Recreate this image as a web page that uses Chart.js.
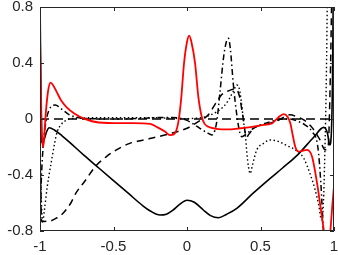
<!DOCTYPE html>
<html>
<head>
<meta charset="utf-8">
<script src="https://cdn.jsdelivr.net/npm/chart.js@4/dist/chart.umd.min.js"></script>
<style>
  html, body { margin: 0; padding: 0; background: #fff; }
</style>
</head>
<body>
<canvas id="plot" width="338" height="255"></canvas>
<script>
// ===== DATA =====
const xTicks = [-1, -0.5, 0, 0.5, 1];
const xTickLabels = ["-1", "-0.5", "0", "0.5", "1"];
const yTicks = [-0.8, -0.4, 0, 0.4, 0.8];
const yTickLabels = ["-0.8", "-0.4", "0", "0.4", "0.8"];

const redX = [-1, -0.995, -0.99, -0.982, -0.975, -0.96, -0.945, -0.928, -0.91, -0.885, -0.858, -0.82, -0.767, -0.7, -0.6, -0.45, -0.367, -0.25, -0.2, -0.15, -0.116, -0.09, -0.06, -0.04, -0.02, 0, 0.015, 0.03, 0.055, 0.077, 0.1, 0.12, 0.145, 0.2, 0.28, 0.35, 0.418, 0.5, 0.578, 0.62, 0.658, 0.685, 0.703, 0.72, 0.737, 0.76, 0.79, 0.817, 0.851, 0.885, 0.908, 0.93, 0.945, 0.965, 0.976, 0.99, 1];
const redY = [0.6, 0.3, 0.0, -0.2, -0.17, 0.05, 0.2, 0.26, 0.24, 0.19, 0.136, 0.085, 0.04, 0.003, -0.025, -0.03, -0.03, -0.035, -0.06, -0.09, -0.115, -0.11, -0.03, 0.14, 0.4, 0.55, 0.595, 0.55, 0.398, 0.16, 0.017, -0.035, -0.055, -0.07, -0.074, -0.068, -0.06, -0.045, -0.031, 0.01, 0.035, 0.015, -0.03, -0.12, -0.2, -0.233, -0.225, -0.22, -0.27, -0.46, -0.626, -0.79, -0.9, -0.9, -0.79, -0.6, -0.48];

const solidX = [-1, -0.995, -0.99, -0.985, -0.97, -0.955, -0.937, -0.9, -0.85, -0.8, -0.7, -0.6, -0.5, -0.4, -0.3, -0.25, -0.184, -0.14, -0.1, -0.05, 0, 0.05, 0.111, 0.16, 0.214, 0.27, 0.339, 0.45, 0.566, 0.65, 0.749, 0.862, 0.93, 0.955, 0.971, 0.982, 0.99, 0.995];
const solidY = [0.9, 0.3, -0.1, -0.17, -0.14, -0.09, -0.062, -0.08, -0.12, -0.165, -0.26, -0.35, -0.44, -0.53, -0.62, -0.657, -0.686, -0.68, -0.655, -0.61, -0.58, -0.595, -0.65, -0.69, -0.705, -0.68, -0.638, -0.53, -0.424, -0.35, -0.26, -0.13, -0.06, -0.1, -0.186, -0.1, 0.3, 0.9];

const dashX = [-1, -0.99, -0.985, -0.95, -0.92, -0.892, -0.86, -0.824, -0.79, -0.756, -0.698, -0.616, -0.55, -0.48, -0.389, -0.32, -0.253, -0.116, 0, 0.077, 0.145, 0.2, 0.237, 0.28, 0.33, 0.355, 0.38, 0.405, 0.42, 0.46, 0.55, 0.62, 0.7, 0.75, 0.8, 0.85, 0.9, 0.94, 0.96, 0.975, 0.985];
const dashY = [-0.2, -0.72, -0.733, -0.73, -0.725, -0.71, -0.69, -0.65, -0.6, -0.53, -0.448, -0.33, -0.27, -0.22, -0.174, -0.155, -0.14, -0.105, -0.066, -0.019, 0.03, 0.12, 0.175, 0.2, 0.215, 0.17, 0.02, -0.13, -0.11, -0.06, -0.035, -0.01, 0.03, 0.015, -0.01, -0.06, -0.14, -0.22, -0.2, 0.3, 0.9];

const dashDotX = [-1, -0.993, -0.985, -0.975, -0.96, -0.94, -0.915, -0.894, -0.87, -0.84, -0.8, -0.75, -0.7, -0.5, -0.3, -0.2, -0.1, -0.048, 0, 0.05, 0.1, 0.14, 0.169, 0.19, 0.205, 0.225, 0.25, 0.27, 0.282, 0.295, 0.315, 0.34, 0.36, 0.374, 0.4, 0.453, 0.52, 0.6, 0.65, 0.7, 0.75, 0.8, 0.85, 0.89, 0.91, 0.93];
const dashDotY = [-0.85, -0.5, -0.3, -0.15, -0.02, 0.06, 0.095, 0.1, 0.085, 0.06, 0.03, 0.012, 0.005, 0.0, 0.005, 0.01, 0.01, 0.005, -0.01, -0.04, -0.075, -0.1, -0.114, -0.08, 0.0, 0.2, 0.45, 0.56, 0.576, 0.5, 0.25, 0.02, -0.1, -0.126, -0.11, -0.066, -0.035, -0.01, 0.0, 0.0, -0.015, -0.04, -0.09, -0.2, -0.45, -0.85];

const dotX = [-1, -0.99, -0.983, -0.97, -0.95, -0.917, -0.9, -0.883, -0.86, -0.838, -0.8, -0.7, -0.5, -0.3, -0.1, 0, 0.05, 0.1, 0.15, 0.2, 0.25, 0.29, 0.32, 0.339, 0.355, 0.37, 0.385, 0.396, 0.408, 0.418, 0.43, 0.445, 0.475, 0.52, 0.566, 0.62, 0.68, 0.75, 0.794, 0.84, 0.87, 0.896, 0.915, 0.928, 0.937, 0.948, 0.955];
const dotY = [-0.3, -0.6, -0.745, -0.65, -0.48, -0.27, -0.17, -0.09, -0.045, -0.02, 0.0, 0.008, 0.01, 0.01, 0.005, 0.002, 0.005, 0.01, 0.025, 0.05, 0.09, 0.148, 0.21, 0.243, 0.22, 0.12, -0.02, -0.1, -0.25, -0.34, -0.39, -0.33, -0.22, -0.175, -0.15, -0.16, -0.19, -0.23, -0.28, -0.4, -0.5, -0.614, -0.72, -0.6, -0.27, 0.3, 0.9];

const zeroX = [-1, 1];
const zeroY = [0, 0];

// ===== HELPERS =====
const pts = (xs, ys) => xs.map((x, i) => ({ x: x, y: ys[i] }));

function line(xs, ys, color, width, dash) {
  return {
    data: pts(xs, ys),
    borderColor: color,
    borderWidth: width,
    borderDash: dash,
    pointRadius: 0,
    fill: false,
    cubicInterpolationMode: "monotone",
    clip: 0
  };
}

// frame + inward ticks on all four sides
const frame = {
  id: "frame",
  afterDatasetsDraw(chart) {
    const ctx = chart.ctx;
    const a = chart.chartArea;
    const sx = chart.scales.x, sy = chart.scales.y;
    ctx.save();
    ctx.strokeStyle = "#262626";
    ctx.lineWidth = 1;
    ctx.setLineDash([]);
    ctx.strokeRect(a.left + 0.5, a.top + 0.5, a.right - a.left - 1, a.bottom - a.top - 1);
    ctx.beginPath();
    xTicks.forEach(v => {
      const px = Math.round(sx.getPixelForValue(v)) + 0.5;
      ctx.moveTo(px, a.bottom); ctx.lineTo(px, a.bottom - 4);
      ctx.moveTo(px, a.top); ctx.lineTo(px, a.top + 4);
    });
    yTicks.forEach(v => {
      const py = Math.round(sy.getPixelForValue(v)) + 0.5;
      ctx.moveTo(a.left, py); ctx.lineTo(a.left + 4, py);
      ctx.moveTo(a.right, py); ctx.lineTo(a.right - 4, py);
    });
    ctx.stroke();
    ctx.restore();
  }
};

// ===== CHART =====
new Chart(document.getElementById("plot"), {
  type: "line",
  data: {
    datasets: [
      line(redX, redY, "#ff0000", 1.8, []),
      line(solidX, solidY, "#000000", 1.6, []),
      line(dashX, dashY, "#000000", 1.5, [7, 5]),
      line(dashDotX, dashDotY, "#000000", 1.5, [6, 3, 1.5, 3]),
      line(dotX, dotY, "#000000", 1.4, [1.5, 2.5]),
      line(zeroX, zeroY, "#000000", 1.3, [9, 5])
    ]
  },
  options: {
    responsive: false,
    animation: false,
    devicePixelRatio: 1,
    layout: { padding: { top: 7, right: 4, left: 0, bottom: 0 } },
    plugins: { legend: { display: false }, tooltip: { enabled: false } },
    scales: {
      x: {
        type: "linear",
        min: -1,
        max: 1,
        afterBuildTicks: s => { s.ticks = xTicks.map(v => ({ value: v })); },
        afterFit: s => { s.height = 24; s.paddingLeft = 0; s.paddingRight = 0; },
        grid: { display: false, drawTicks: false },
        border: { display: false },
        ticks: {
          padding: 7,
          color: "#262626",
          font: { family: "Liberation Sans", size: 15 },
          maxRotation: 0,
          callback: (v, i) => xTickLabels[i]
        }
      },
      y: {
        type: "linear",
        min: -0.8,
        max: 0.8,
        afterBuildTicks: s => { s.ticks = yTicks.map(v => ({ value: v })); },
        afterFit: s => { s.width = 40; s.paddingTop = 0; s.paddingBottom = 0; },
        grid: { display: false, drawTicks: false },
        border: { display: false },
        ticks: {
          padding: 7,
          color: "#262626",
          font: { family: "Liberation Sans", size: 15 },
          callback: (v, i) => yTickLabels[i]
        }
      }
    }
  },
  plugins: [frame]
});
</script>
</body>
</html>
